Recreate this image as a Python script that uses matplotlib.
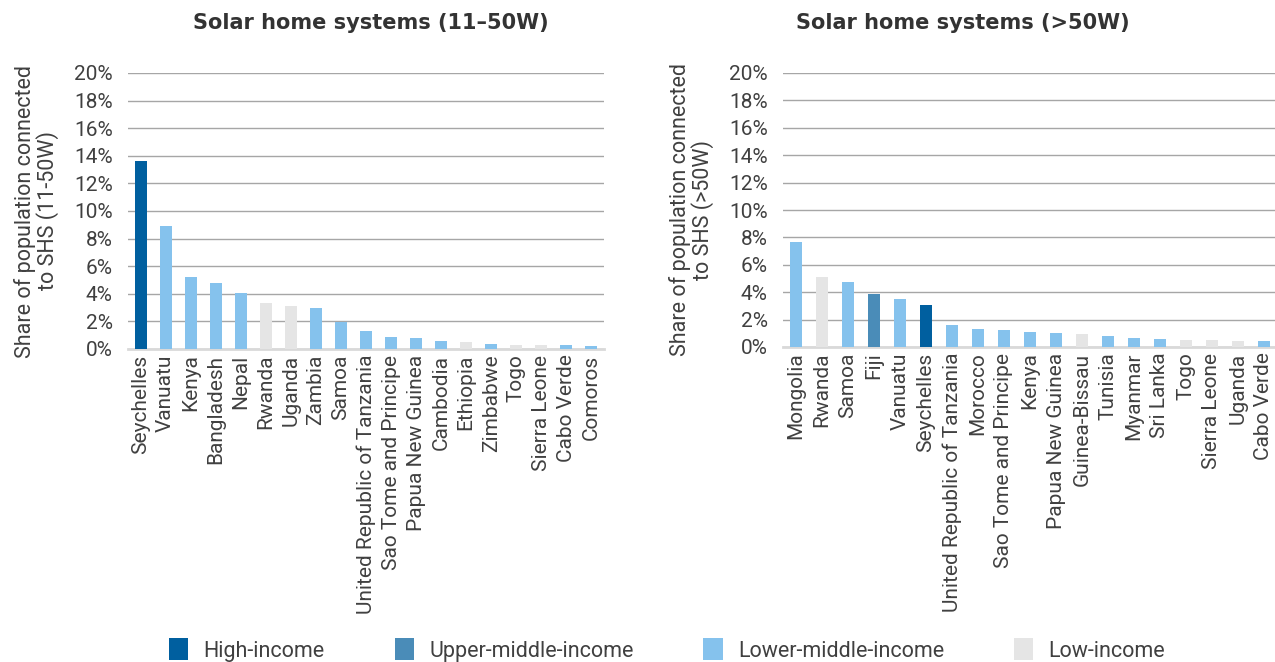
import matplotlib
matplotlib.use("Agg")
import matplotlib.pyplot as plt
from matplotlib.patches import Patch

# cores por grupo de renda
cores = {
    "High-income": "#005f9f",
    "Upper-middle-income": "#4a8cb8",
    "Lower-middle-income": "#85c2ed",
    "Low-income": "#e5e5e5",
}
H, U, L, B = "High-income", "Upper-middle-income", "Lower-middle-income", "Low-income"

# SHS 11-50W
paises_1 = ["Seychelles", "Vanuatu", "Kenya", "Bangladesh", "Nepal", "Rwanda", "Uganda",
            "Zambia", "Samoa", "United Republic of Tanzania", "Sao Tome and Principe",
            "Papua New Guinea", "Cambodia", "Ethiopia", "Zimbabwe", "Togo", "Sierra Leone",
            "Cabo Verde", "Comoros"]
valores_1 = [13.65, 8.88, 5.19, 4.80, 4.05, 3.33, 3.11, 2.99, 1.93, 1.33, 0.87, 0.77,
             0.58, 0.53, 0.39, 0.29, 0.29, 0.29, 0.24]
renda_1 = [H, L, L, L, L, B, B, L, L, L, L, L, L, B, L, B, B, L, L]

# SHS >50W
paises_2 = ["Mongolia", "Rwanda", "Samoa", "Fiji", "Vanuatu", "Seychelles",
            "United Republic of Tanzania", "Morocco", "Sao Tome and Principe", "Kenya",
            "Papua New Guinea", "Guinea-Bissau", "Tunisia", "Myanmar", "Sri Lanka", "Togo",
            "Sierra Leone", "Uganda", "Cabo Verde"]
valores_2 = [7.70, 5.11, 4.77, 3.84, 3.47, 3.03, 1.61, 1.32, 1.22, 1.12, 1.03, 0.93,
             0.83, 0.66, 0.61, 0.54, 0.51, 0.46, 0.46]
renda_2 = [L, B, L, U, L, H, L, L, L, L, L, B, L, L, L, B, B, B, L]

ticks_y = list(range(0, 21, 2))

plt.rcParams["font.family"] = ["Roboto", "DejaVu Sans"]
txt = "#404040"

fig = plt.figure(figsize=(12.75, 6.62), dpi=100)


def painel(rect, paises, valores, renda, ylabel, largura):
    ax = fig.add_axes(rect)
    x = list(range(len(paises)))
    ax.bar(x, valores, width=largura, color=[cores[r] for r in renda], zorder=3)
    ax.set_xlim(-0.5, len(paises) - 0.5)
    ax.set_ylim(0, 20)
    ax.set_yticks(ticks_y)
    ax.set_yticklabels([f"{t}%" for t in ticks_y], fontsize=15, color=txt)
    ax.set_xticks(x)
    ax.set_xticklabels(paises, rotation=90, fontsize=15, color=txt)
    ax.tick_params(length=0, axis="y", pad=11)
    ax.tick_params(length=0, axis="x", pad=4)
    for s in ["top", "right", "left"]:
        ax.spines[s].set_visible(False)
    ax.spines["bottom"].set_color("#d9d9d9")
    ax.spines["bottom"].set_linewidth(2)
    ax.yaxis.grid(True, color="#a6a6a6", linewidth=1)
    ax.set_axisbelow(True)
    ax.set_ylabel(ylabel, fontsize=15.5, color=txt, labelpad=11, linespacing=1.0)
    return ax


ax1 = painel([128 / 1275, 1 - 349 / 662, 476 / 1275, 276 / 662], paises_1, valores_1, renda_1,
             "Share of population connected\nto SHS (11-50W)", 0.48)
ax2 = painel([783 / 1275, 1 - 347 / 662, 494 / 1275, 274 / 662], paises_2, valores_2, renda_2,
             "Share of population connected\nto SHS (>50W)", 0.43)

fig.text(371 / 1275, 1 - 23 / 662, "Solar home systems (11–50W)", ha="center", va="center",
         fontsize=15, fontweight="bold", color="#333333", family=["DejaVu Sans"])
fig.text(963 / 1275, 1 - 23 / 662, "Solar home systems (>50W)", ha="center", va="center",
         fontsize=15, fontweight="bold", color="#333333", family=["DejaVu Sans"])

handles = [Patch(facecolor=c, edgecolor="none") for c in cores.values()]
leg = fig.legend(handles, list(cores.keys()), loc="center", ncol=4,
                 bbox_to_anchor=(667 / 1275, 1 - 650 / 662), frameon=False,
                 fontsize=15.5, handlelength=0.9, handleheight=1.2, handletextpad=0.7,
                 columnspacing=3.25)
for t in leg.get_texts():
    t.set_color(txt)

fig.savefig("out.png", dpi=100)
